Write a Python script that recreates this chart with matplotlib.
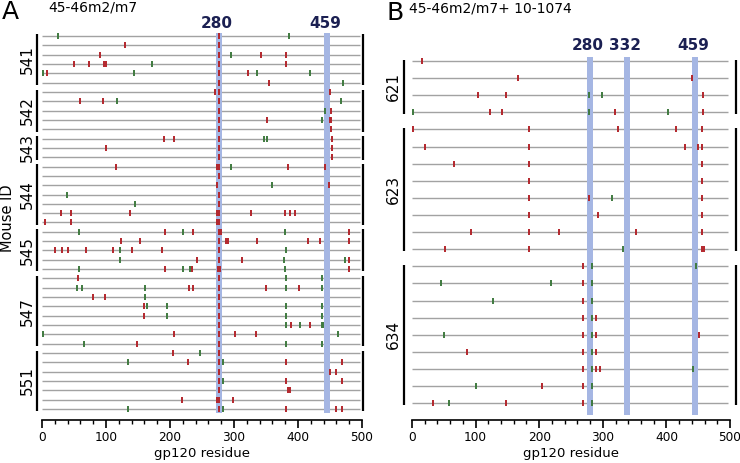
import matplotlib
matplotlib.use("Agg")
import matplotlib.pyplot as plt
from matplotlib import font_manager

# ---------------- data ----------------
# Panel A (45-46m2/m7): each mouse -> list of rows; per row red / green mutation residues
mice_A = ["541", "542", "543", "544", "545", "547", "551"]
m541_red = [[276], [130, 276], [90, 276, 342, 381], [50, 74, 97, 100, 276, 381], [8, 276, 322], [276, 354]]
m541_green = [[25, 386], [], [295], [172], [2, 143, 336, 419], [470]]
m542_red = [[270, 276, 450], [60, 95, 276], [276, 451], [276, 352, 450, 452], [276, 452]]
m542_green = [[], [117, 467], [442], [438], []]
m543_red = [[191, 207, 276, 453], [100, 276, 453], [276, 453]]
m543_green = [[347, 351], [], []]
m544_red = [[116, 273, 277, 385, 442], [277], [274, 448], [277], [277],
            [30, 46, 138, 273, 277, 326, 380, 388, 395], [4, 45, 273, 277]]
m544_green = [[295], [], [360], [39], [145], [], []]
m545_red = [[192, 236, 277, 279, 480], [123, 153, 277, 287, 291, 336, 415, 434, 480],
            [20, 31, 40, 69, 111, 141, 188, 277], [242, 277, 313, 480], [192, 235, 275, 278, 480]]
m545_green = [[58, 221, 380], [], [122, 382], [122, 378, 473], [58, 221, 232, 380]]
m547_red = [[56, 277], [229, 236, 277, 350, 402], [79, 98, 276], [159, 277], [159, 277],
            [277, 389, 419], [206, 277, 302, 334], [148, 277]]
m547_green = [[381, 438], [54, 62, 161, 381, 438], [161], [164, 195, 381, 438], [195, 381, 438],
              [381, 403, 438, 439], [2, 462], [65, 381, 438]]
m551_red = [[205, 277], [228, 277, 382, 468], [277, 450, 459], [277, 382, 468], [277, 384, 388],
            [218, 274, 277, 298], [277, 382, 460, 468]]
m551_green = [[247], [134, 283], [], [283], [], [], [134, 283]]

# Panel B (45-46m2/m7+ 10-1074)
mice_B = ["621", "623", "634"]
m621_red = [[15], [167, 441], [104, 148, 457], [123, 141, 319, 457]]
m621_green = [[], [], [278, 298], [2, 278, 402]]
m623_red = [[2, 184, 324, 415, 456], [20, 184, 429, 449, 456], [66, 184, 456], [184, 456],
            [184, 278, 456], [184, 292, 456], [93, 184, 231, 352, 456], [52, 184, 456, 459]]
m623_green = [[], [], [], [], [315], [], [], [331]]
m634_red = [[269], [269], [269], [269, 289], [269, 289, 451], [87, 269, 289], [269, 289, 296],
            [205, 269], [33, 148, 269]]
m634_green = [[283, 447], [45, 218, 283], [127, 283], [283], [50, 283], [283], [283, 442],
              [101, 283], [58, 283]]

bands_A = [276.5, 445.3]
band_labels_A = ["280", "459"]
bands_B = [279.5, 337.5, 445.5]
band_labels_B = ["280", "332", "459"]
band_width = 9.4

xticks = [0, 100, 200, 300, 400, 500]

# ---------------- style ----------------
W, H = 740, 463
RED = '#b3262c'
GREEN = '#3f7a3f'
GRAY = '#a2a2a2'
BAND = '#a5b6e3'
NAVY = '#1b2052'

names = {f.name for f in font_manager.fontManager.ttflist}
bold_family = 'Liberation Sans Narrow' if 'Liberation Sans Narrow' in names else 'DejaVu Sans'
plt.rcParams['font.family'] = 'DejaVu Sans'

fig = plt.figure(figsize=(7.4, 4.63), dpi=100)


def add_ax(left, right, top, bottom):
    return fig.add_axes([left / W, 1 - bottom / H, (right - left) / W, (bottom - top) / H])


def draw_panel(ax, groups, reds, greens, bands, labels, row0_px, spacing, top_px, bottom_px,
               band_top_px, band_bot_px, label_y_px, lbr_x, rbr_x, id_x, br_ext):
    to_row = lambda py: (py - row0_px) / spacing
    ax.set_xlim(0, 500)
    ax.set_ylim(to_row(bottom_px), to_row(top_px))
    i = 0
    for name, rr, gg in zip(groups, reds, greens):
        start = i
        for r, g in zip(rr, gg):
            ax.hlines(i, 0, 497, color=GRAY, lw=1.0, zorder=1)
            if r:
                ax.plot(r, [i] * len(r), ls='none', marker='|', ms=5, mew=1.4, color=RED, zorder=4)
            if g:
                ax.plot(g, [i] * len(g), ls='none', marker='|', ms=5, mew=1.4, color=GREEN, zorder=4)
            i += 1
        end = i - 1
        for bx in (lbr_x, rbr_x):
            ax.plot([bx, bx], [start - br_ext, end + br_ext], color='black', lw=1.6,
                    clip_on=False, solid_capstyle='butt', zorder=3)
        ax.text(id_x, (start + end) / 2, name, rotation=90, ha='center', va='center',
                fontsize=11, clip_on=False)
    for bc, lab in zip(bands, labels):
        ax.fill_between([bc - band_width / 2, bc + band_width / 2], to_row(band_top_px),
                        to_row(band_bot_px), color=BAND, lw=0, zorder=2)
        ax.text(bc - 3, to_row(label_y_px), lab, ha='center', va='center', fontsize=11,
                fontweight='bold', color=NAVY, family=bold_family, clip_on=False)
    for s in ('left', 'top', 'right'):
        ax.spines[s].set_visible(False)
    ax.spines['bottom'].set_linewidth(1.2)
    ax.set_yticks([])
    ax.set_xticks(xticks)
    ax.set_xticks(range(0, 501, 20), minor=True)
    ax.tick_params(axis='x', which='major', direction='out', length=5.5, width=1.2,
                   labelsize=8.7, pad=2.5)
    ax.tick_params(axis='x', which='minor', direction='out', length=3, width=1.0)
    ax.set_xlabel('gp120 residue', fontsize=9.5, labelpad=2)
    ax.patch.set_alpha(0)


axA = add_ax(42, 362, 28, 420)
draw_panel(axA, mice_A,
           [m541_red, m542_red, m543_red, m544_red, m545_red, m547_red, m551_red],
           [m541_green, m542_green, m543_green, m544_green, m545_green, m547_green, m551_green],
           bands_A, band_labels_A, 36, 9.325, 28, 420, 33, 413, 23.5,
           -8.3, 501.5, -23.4, 0.25)

axB = add_ax(412, 730, 28, 420)
draw_panel(axB, mice_B, [m621_red, m623_red, m634_red], [m621_green, m623_green, m634_green],
           bands_B, band_labels_B, 61, 17.115, 28, 420, 57.3, 415, 45,
           -12, 509, -29.8, 0.08)

fig.text(10 / W, 1 - 12 / H, 'A', fontsize=18, ha='center', va='center')
fig.text(48 / W, 1 - 7.5 / H, '45-46m2/m7', fontsize=10, ha='left', va='center')
fig.text(395 / W, 1 - 13.5 / H, 'B', fontsize=18, ha='center', va='center')
fig.text(409 / W, 1 - 8.5 / H, '45-46m2/m7+ 10-1074', fontsize=10, ha='left', va='center')
fig.text(8 / W, 1 - 218 / H, 'Mouse ID', fontsize=10.5, rotation=90, ha='center', va='center')

fig.savefig('out.png', dpi=100)
